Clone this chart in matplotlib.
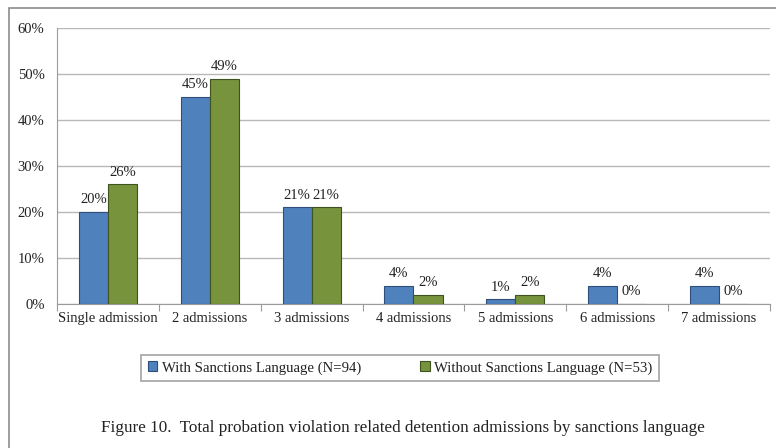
import matplotlib
matplotlib.use("Agg")
import matplotlib.pyplot as plt
from matplotlib.patches import Rectangle
import numpy as np

categories = ["Single admission", "2 admissions", "3 admissions", "4 admissions",
              "5 admissions", "6 admissions", "7 admissions"]
with_sanctions = [20, 45, 21, 4, 1, 4, 4]
without_sanctions = [26, 49, 21, 2, 2, 0, 0]
series_names = ["With Sanctions Language (N=94)", "Without Sanctions Language (N=53)"]
yticks = [0, 10, 20, 30, 40, 50, 60]
caption = "Figure 10.  Total probation violation related detention admissions by sanctions language"

plt.rcParams["font.family"] = ["Liberation Serif", "DejaVu Serif"]

fig = plt.figure(figsize=(7.76, 4.48), dpi=100)
fig.patch.set_facecolor("white")

# outer frame
fig.patches.append(Rectangle((9 / 776, -0.02), 1.05, 1 - 8 / 448 + 0.02,
                             transform=fig.transFigure, fill=False,
                             edgecolor="#8c8c8c", linewidth=1.2))

ax = fig.add_axes([57 / 776, 1 - 304 / 448, (770 - 57) / 776, (304 - 28) / 448])

x = np.arange(len(categories))
w = 0.285
b1 = ax.bar(x - w / 2, with_sanctions, w, color="#4F81BD", edgecolor="#2F4F7A",
            linewidth=0.8, label=series_names[0], zorder=3)
b2 = ax.bar(x + w / 2, without_sanctions, w, color="#77933C", edgecolor="#3F5220",
            linewidth=0.8, label=series_names[1], zorder=3)

for bars, vals in ((b1, with_sanctions), (b2, without_sanctions)):
    for rect, v in zip(bars, vals):
        ax.annotate(f"{v}%", (rect.get_x() + rect.get_width() / 2, v),
                    xytext=(0, 4), textcoords="offset points",
                    ha="center", va="bottom", fontsize=10.5, color="#222222")

ax.set_xlim(-0.5, len(categories) - 0.5)
ax.set_ylim(0, 60)
ax.set_yticks(yticks)
ax.set_yticklabels([f"{t}%" for t in yticks], fontsize=10.5, color="#222222")
ax.set_xticks(x)
ax.set_xticklabels(categories, fontsize=10.5, color="#222222")
ax.tick_params(axis="x", length=0, pad=6)
ax.tick_params(axis="y", length=0, pad=9)
ax.set_xticks(np.arange(-0.5, len(categories) + 0.5, 1), minor=True)
ax.tick_params(axis="x", which="minor", length=5, color="#9a9a9a", width=0.8)

ax.yaxis.grid(True, color="#b8b8b8", linewidth=1.0, zorder=0)
ax.set_axisbelow(True)
for side in ("top", "right"):
    ax.spines[side].set_visible(False)
ax.spines["left"].set_color("#9a9a9a")
ax.spines["bottom"].set_color("#9a9a9a")

leg = fig.legend(handles=[b1, b2], loc="center", bbox_to_anchor=(400 / 776, 1 - 368 / 448),
                 ncol=2, frameon=True, fancybox=False, fontsize=10.6,
                 handlelength=0.65, handleheight=0.65, handletextpad=0.3,
                 columnspacing=4.0, borderpad=0.45)
leg.get_frame().set_edgecolor("#8c8c8c")
leg.get_frame().set_linewidth(1.2)
for t in leg.get_texts():
    t.set_color("#222222")

fig.text(403 / 776, 1 - 428 / 448, caption, ha="center", va="center",
         fontsize=12.3, color="#222222")

fig.savefig("out.png", dpi=100)
